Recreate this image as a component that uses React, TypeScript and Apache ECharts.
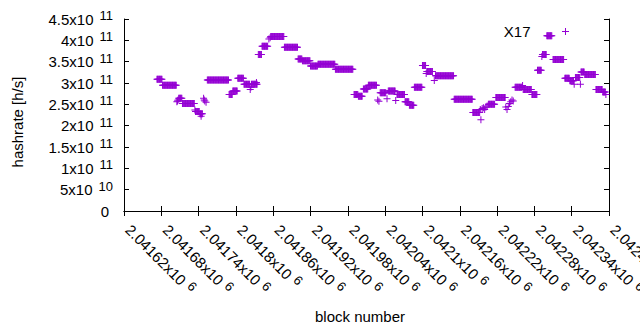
import React, { useEffect, useRef } from "react";
import * as echarts from "echarts";

// x axis: block numbers
const X_MIN = 2041620;
const X_MAX = 2042400;
const X_INTERVAL = 60;
// y axis: hashrate [h/s]
const Y_MAX = 4.5e11;
const Y_INTERVAL = 0.5e11;
const SERIES_NAME = "X17";

// Block offsets are relative to this block number
const BASE_BLOCK = 2041620;

// Plateaus (every block in the run has the same hashrate, in units of 1e11 h/s)
const runStart = [53, 62, 88, 94, 115, 122, 134, 169, 175, 183, 193, 205, 216, 222, 236, 258, 280, 287, 300, 312, 340, 370, 377, 385, 393, 412, 425, 439, 452, 459, 467, 480, 487, 501, 531, 561, 586, 598, 629, 642, 656, 665, 673, 680, 690, 709, 717, 726, 735, 741, 759, 770];
const runEnd = [61, 84, 93, 113, 121, 126, 168, 174, 182, 192, 202, 214, 221, 231, 257, 279, 286, 299, 311, 339, 368, 376, 383, 392, 406, 421, 436, 451, 458, 466, 479, 485, 496, 530, 560, 572, 596, 613, 640, 655, 664, 671, 679, 688, 707, 716, 723, 733, 740, 758, 769, 774];
const runValue = [3.09, 2.95, 2.64, 2.52, 2.33, 2.28, 3.07, 2.73, 2.81, 3.11, 2.97, 2.97, 3.67, 3.86, 4.09, 3.84, 3.56, 3.52, 3.40, 3.44, 3.32, 2.73, 2.69, 2.86, 2.95, 2.77, 2.81, 2.73, 2.56, 2.48, 2.90, 3.41, 3.27, 3.17, 2.62, 2.31, 2.50, 2.66, 2.90, 2.85, 2.73, 3.30, 3.67, 4.11, 3.55, 3.11, 3.05, 3.13, 3.26, 3.20, 2.85, 2.79];

// Isolated blocks (offset, hashrate in 1e11 h/s)
const pointOffset = [85, 86, 87, 114, 124, 128, 129, 130, 132, 203, 204, 213, 233, 235, 408, 410, 423, 437, 486, 499, 573, 574, 576, 578, 580, 582, 584, 614, 616, 618, 620, 622, 624, 626, 641, 672, 724, 734, 775];
const pointValue = [2.56, 2.58, 2.60, 2.37, 2.22, 2.64, 2.60, 2.58, 2.55, 2.85, 2.90, 3.01, 4.03, 4.06, 2.60, 2.57, 2.63, 2.59, 3.22, 3.06, 2.38, 2.14, 2.40, 2.42, 2.38, 2.43, 2.46, 2.44, 2.38, 2.45, 2.52, 2.56, 2.60, 2.58, 2.94, 3.62, 2.97, 2.97, 2.73];

const COLOR = "#9400D3";
const FONT = "Liberation Sans, Arial, sans-serif";
const PLUS = "path://M3,0h1v3h3v1h-3v3h-1v-3h-3v-1h3z";

function buildData(): number[][] {
  const data: number[][] = [];
  for (let i = 0; i < runStart.length; i++) {
    for (let b = runStart[i]; b <= runEnd[i]; b++) {
      data.push([BASE_BLOCK + b, runValue[i] * 1e11]);
    }
  }
  for (let i = 0; i < pointOffset.length; i++) {
    data.push([BASE_BLOCK + pointOffset[i], pointValue[i] * 1e11]);
  }
  return data;
}

export default function App() {
  const ref = useRef<HTMLDivElement>(null);
  useEffect(() => {
    if (!ref.current) return;
    const chart = echarts.init(ref.current, null, { renderer: "svg" });
    const axisLine = { show: true, lineStyle: { color: "#000", width: 1 } };
    const tick = { show: true, inside: true, length: 5, lineStyle: { color: "#000", width: 1 } };
    chart.setOption({
      animation: false,
      backgroundColor: "#fff",
      textStyle: { fontFamily: FONT },
      grid: { left: 124, right: 31, top: 19, bottom: 119, containLabel: false, outerBoundsMode: "none" },
      legend: {
        data: [{ name: SERIES_NAME, icon: PLUS }],
        right: 71,
        top: 24,
        padding: 0,
        align: "right",
        itemWidth: 60,
        itemHeight: 7,
        symbolKeepAspect: true,
        textStyle: { fontSize: 15, color: "#000", fontFamily: FONT },
      },
      xAxis: [
        {
          type: "value",
          min: X_MIN,
          max: X_MAX,
          interval: X_INTERVAL,
          axisLine,
          axisTick: tick,
          splitLine: { show: false },
          axisLabel: {
            rotate: -45,
            margin: 12,
            color: "#000",
            fontSize: 15,
            fontFamily: FONT,
            hideOverlap: false,
            formatter: (v: number) => `{b|${parseFloat((v / 1e6).toFixed(6))}x10}{s|6}`,
            rich: {
              b: { fontSize: 15, fontFamily: FONT, color: "#000", padding: [0, 0, 0, 6] },
              s: { fontSize: 13, fontFamily: FONT, color: "#000", padding: [0, 0, 7, 5] },
            },
          },
        },
        {
          type: "value",
          position: "top",
          min: X_MIN,
          max: X_MAX,
          interval: X_INTERVAL,
          axisLine,
          axisTick: tick,
          axisLabel: { show: false },
          splitLine: { show: false },
        },
      ],
      yAxis: [
        {
          type: "value",
          min: 0,
          max: Y_MAX,
          interval: Y_INTERVAL,
          axisLine,
          axisTick: tick,
          splitLine: { show: false },
          axisLabel: {
            margin: 11,
            color: "#000",
            fontSize: 15,
            fontFamily: FONT,
            formatter: (v: number) => {
              if (v === 0) return "{z|0}";
              const e = Math.floor(Math.log10(v) + 1e-9);
              const m = parseFloat((v / Math.pow(10, e)).toFixed(3));
              return `${m}x10{s|${e}}`;
            },
            rich: {
              z: { fontSize: 15, fontFamily: FONT, color: "#000", padding: [0, 4, 0, 0] },
              s: { fontSize: 13, fontFamily: FONT, color: "#000", padding: [0, 0, 7, 6] },
            },
          },
        },
        {
          type: "value",
          position: "right",
          min: 0,
          max: Y_MAX,
          interval: Y_INTERVAL,
          axisLine,
          axisTick: tick,
          axisLabel: { show: false },
          splitLine: { show: false },
        },
      ],
      graphic: [
        {
          type: "text",
          x: 17,
          y: 122,
          rotation: Math.PI / 2,
          style: { text: "hashrate [h/s]", font: `15px ${FONT}`, fill: "#000", textAlign: "center", textVerticalAlign: "middle" },
        },
        {
          type: "text",
          x: 360,
          y: 316,
          style: { text: "block number", font: `15px ${FONT}`, fill: "#000", textAlign: "center", textVerticalAlign: "middle" },
        },
      ],
      series: [
        {
          name: SERIES_NAME,
          type: "scatter",
          xAxisIndex: 0,
          yAxisIndex: 0,
          symbol: PLUS,
          symbolSize: 7,
          itemStyle: { color: COLOR, opacity: 1 },
          emphasis: { disabled: true },
          data: buildData(),
        },
      ],
    });
    return () => chart.dispose();
  }, []);
  return <div ref={ref} style={{ position: "fixed", left: 0, top: 0, width: 640, height: 330 }} />;
}
